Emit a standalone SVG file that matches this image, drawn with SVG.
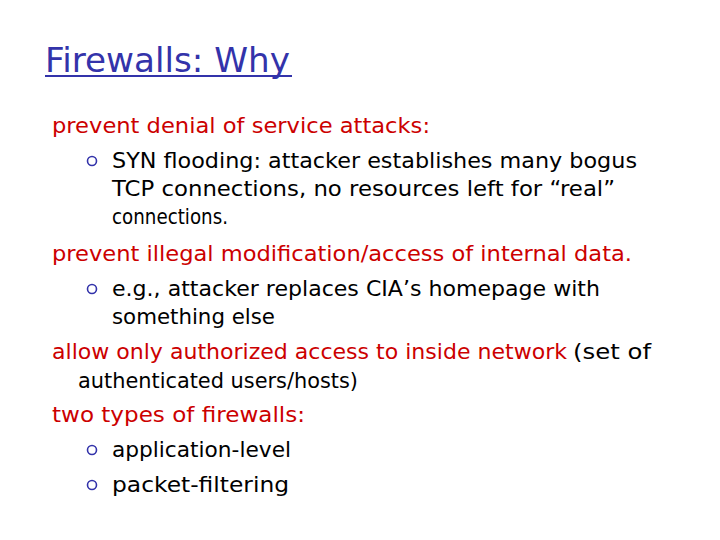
<svg xmlns="http://www.w3.org/2000/svg" width="720" height="540" viewBox="0 0 720 540">
<style>
text{font-family:"DejaVu Sans","Liberation Sans",sans-serif;font-size:22px}
.r{fill:#cc0000}.k{fill:#000}
.b{fill:none;stroke:#3333aa;stroke-width:1.6}
</style>
<rect width="720" height="540" fill="#fff"/>
<g id="title">
<text x="45" y="72" style="font-size:34px" fill="#3333aa" textLength="245" lengthAdjust="spacingAndGlyphs">Firewalls: Why</text>
<line x1="45" y1="76" x2="292" y2="76" stroke="#3333aa" stroke-width="2"/>
</g>
<g id="body">
<text class="r" x="52" y="133" textLength="378" lengthAdjust="spacingAndGlyphs">prevent denial of service attacks:</text>
<circle class="b" cx="92" cy="161" r="4.5"/>
<text class="k" x="112" y="168" textLength="525" lengthAdjust="spacingAndGlyphs">SYN flooding: attacker establishes many bogus</text>
<text class="k" x="112" y="196" textLength="503" lengthAdjust="spacingAndGlyphs">TCP connections, no resources left for “real”</text>
<text class="k" x="112" y="224" textLength="116" lengthAdjust="spacingAndGlyphs">connections.</text>
<text class="r" x="52" y="261" textLength="580" lengthAdjust="spacingAndGlyphs">prevent illegal modification/access of internal data.</text>
<circle class="b" cx="92" cy="289" r="4.5"/>
<text class="k" x="112" y="296" textLength="488" lengthAdjust="spacingAndGlyphs">e.g., attacker replaces CIA’s homepage with</text>
<text class="k" x="112" y="324" textLength="163" lengthAdjust="spacingAndGlyphs">something else</text>
<text class="r" x="52" y="359" textLength="515" lengthAdjust="spacingAndGlyphs">allow only authorized access to inside network</text>
<text class="k" x="573" y="359" textLength="78" lengthAdjust="spacingAndGlyphs">(set of</text>
<text class="k" x="78" y="388" textLength="280" lengthAdjust="spacingAndGlyphs">authenticated users/hosts)</text>
<text class="r" x="52" y="422" textLength="253" lengthAdjust="spacingAndGlyphs">two types of firewalls:</text>
<circle class="b" cx="92" cy="450" r="4.5"/>
<text class="k" x="112" y="457" textLength="179" lengthAdjust="spacingAndGlyphs">application-level</text>
<circle class="b" cx="92" cy="485" r="4.5"/>
<text class="k" x="112" y="492" textLength="177" lengthAdjust="spacingAndGlyphs">packet-filtering</text>
</g>
</svg>
